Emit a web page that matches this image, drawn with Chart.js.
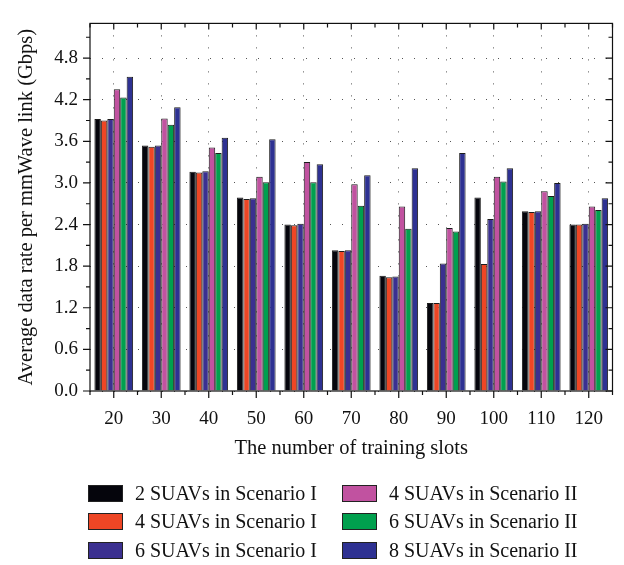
<!DOCTYPE html>
<html>
<head>
<meta charset="utf-8">
<script src="https://cdn.jsdelivr.net/npm/chart.js@4"></script>
<style>
  html, body { margin: 0; padding: 0; background: #fff; }
  #wrap { position: relative; width: 624px; height: 565px; }
  #chartBox { position: absolute; left: 0; top: 0; width: 624px; height: 470px; }
  #legend { position: absolute; left: 0; top: 0; width: 624px; height: 565px; pointer-events: none;
            font-family: 'Liberation Serif', 'DejaVu Serif', serif; font-size: 20px; color: #111; }
  .item { position: absolute; height: 18px; display: flex; align-items: center; white-space: nowrap; }
  .box { width: 33px; height: 15px; border: 1px solid #222; margin-right: 12px; }
</style>
</head>
<body>
<div id="wrap">
  <div id="chartBox"><canvas id="c"></canvas></div>
  <div id="legend"></div>
</div>
<script>
// Training slot counts along the x axis
const slots = ['20', '30', '40', '50', '60', '70', '80', '90', '100', '110', '120'];

// Average data rate per mmWave link (Gbps)
const suav2ScenI  = [3.92, 3.54, 3.16, 2.79, 2.40, 2.03, 1.66, 1.27, 2.79, 2.59, 2.40];
const suav4ScenI  = [3.90, 3.52, 3.15, 2.77, 2.39, 2.02, 1.64, 1.27, 1.83, 2.58, 2.40];
const suav6ScenI  = [3.92, 3.54, 3.17, 2.78, 2.41, 2.03, 1.65, 1.84, 2.48, 2.59, 2.41];
const suav4ScenII = [4.35, 3.93, 3.51, 3.09, 3.30, 2.98, 2.66, 2.35, 3.09, 2.88, 2.66];
const suav6ScenII = [4.23, 3.84, 3.43, 3.01, 3.01, 2.67, 2.34, 2.30, 3.02, 2.81, 2.61];
const suav8ScenII = [4.53, 4.09, 3.65, 3.63, 3.27, 3.11, 3.21, 3.43, 3.21, 3.00, 2.78];

// Y axis tick values
const yTicks = [0.0, 0.6, 1.2, 1.8, 2.4, 3.0, 3.6, 4.2, 4.8];

const seriesNames = [
  '2 SUAVs in Scenario I', '4 SUAVs in Scenario I', '6 SUAVs in Scenario I',
  '4 SUAVs in Scenario II', '6 SUAVs in Scenario II', '8 SUAVs in Scenario II'
];
const seriesData = [suav2ScenI, suav4ScenI, suav6ScenI, suav4ScenII, suav6ScenII, suav8ScenII];
const seriesColors = ['#05050c', '#ee4625', '#3b3090', '#c152a0', '#00a04e', '#2e3192'];

const FONT = "'Liberation Serif', 'DejaVu Serif', serif";
const Y_MAX = 5.3;

// Frame on all four sides with major/minor tick marks
const framePlugin = {
  id: 'frame',
  afterDatasetsDraw(chart) {
    const { ctx, chartArea: a, scales: { x, y } } = chart;
    ctx.save();
    ctx.strokeStyle = '#111';
    ctx.lineWidth = 1.2;
    ctx.strokeRect(a.left, a.top, a.right - a.left, a.bottom - a.top);
    ctx.beginPath();
    yTicks.forEach(v => {
      const py = y.getPixelForValue(v);
      ctx.moveTo(a.left - 7, py); ctx.lineTo(a.left, py);
      ctx.moveTo(a.right - 7, py); ctx.lineTo(a.right, py);
      const m = v + 0.3;
      if (m < Y_MAX) {
        const pm = y.getPixelForValue(m);
        ctx.moveTo(a.left - 4, pm); ctx.lineTo(a.left, pm);
        ctx.moveTo(a.right - 4, pm); ctx.lineTo(a.right, pm);
      }
    });
    const centers = slots.map((_, i) => x.getPixelForValue(i));
    centers.forEach(px => {
      ctx.moveTo(px, a.bottom); ctx.lineTo(px, a.bottom + 7);
      ctx.moveTo(px, a.top); ctx.lineTo(px, a.top + 6);
    });
    const half = (centers[1] - centers[0]) / 2;
    [centers[0] - half, ...centers.map(c => c + half)].forEach(px => {
      ctx.moveTo(px, a.bottom); ctx.lineTo(px, a.bottom + 4);
      ctx.moveTo(px, a.top); ctx.lineTo(px, a.top + 4);
    });
    ctx.stroke();
    ctx.restore();
  }
};

new Chart(document.getElementById('c'), {
  type: 'bar',
  data: {
    labels: slots,
    datasets: seriesData.map((d, i) => ({
      label: seriesNames[i],
      data: d,
      backgroundColor: seriesColors[i],
      borderColor: '#1c1c1c',
      borderWidth: 1,
      categoryPercentage: 0.815,
      barPercentage: 1.0
    }))
  },
  options: {
    responsive: true,
    maintainAspectRatio: false,
    animation: false,
    devicePixelRatio: 1,
    layout: { padding: { top: 4, right: 11.5, left: 0, bottom: 0 } },
    plugins: { legend: { display: false }, tooltip: { enabled: false } },
    scales: {
      x: {
        offset: true,
        grid: { offset: false, color: '#555', lineWidth: 1, drawTicks: false },
        border: { display: false, dash: [1, 11] },
        ticks: { color: '#111', font: { family: FONT, size: 19 }, padding: 17, maxRotation: 0 },
        title: { display: true, text: 'The number of training slots', color: '#111',
                 font: { family: FONT, size: 20.5 }, padding: { top: 0, bottom: 9.5 } },
        afterFit(s) { s.height = 79; }
      },
      y: {
        min: 0,
        max: Y_MAX,
        afterBuildTicks(s) { s.ticks = yTicks.map(v => ({ value: v })); },
        grid: { color: '#555', lineWidth: 1, drawTicks: false },
        border: { display: false, dash: [1, 11] },
        ticks: { color: '#111', font: { family: FONT, size: 19 }, padding: 12,
                 callback: v => Number(v).toFixed(1) },
        title: { display: true, text: 'Average data rate per mmWave link (Gbps)', color: '#111',
                 font: { family: FONT, size: 20.5 }, padding: { top: 14, bottom: 0 } },
        afterFit(s) { s.width = 90; }
      }
    }
  },
  plugins: [framePlugin]
});

// Two-column legend: Scenario I on the left, Scenario II on the right
const legend = document.getElementById('legend');
const colX = [88, 342];
const rowY = [493, 521.5, 550];
seriesNames.forEach((name, i) => {
  const col = i < 3 ? 0 : 1;
  const row = i % 3;
  const el = document.createElement('div');
  el.className = 'item';
  el.style.left = colX[col] + 'px';
  el.style.top = (rowY[row] - 9) + 'px';
  const box = document.createElement('span');
  box.className = 'box';
  box.style.background = seriesColors[i];
  const txt = document.createElement('span');
  txt.textContent = name;
  el.appendChild(box);
  el.appendChild(txt);
  legend.appendChild(el);
});
</script>
</body>
</html>
